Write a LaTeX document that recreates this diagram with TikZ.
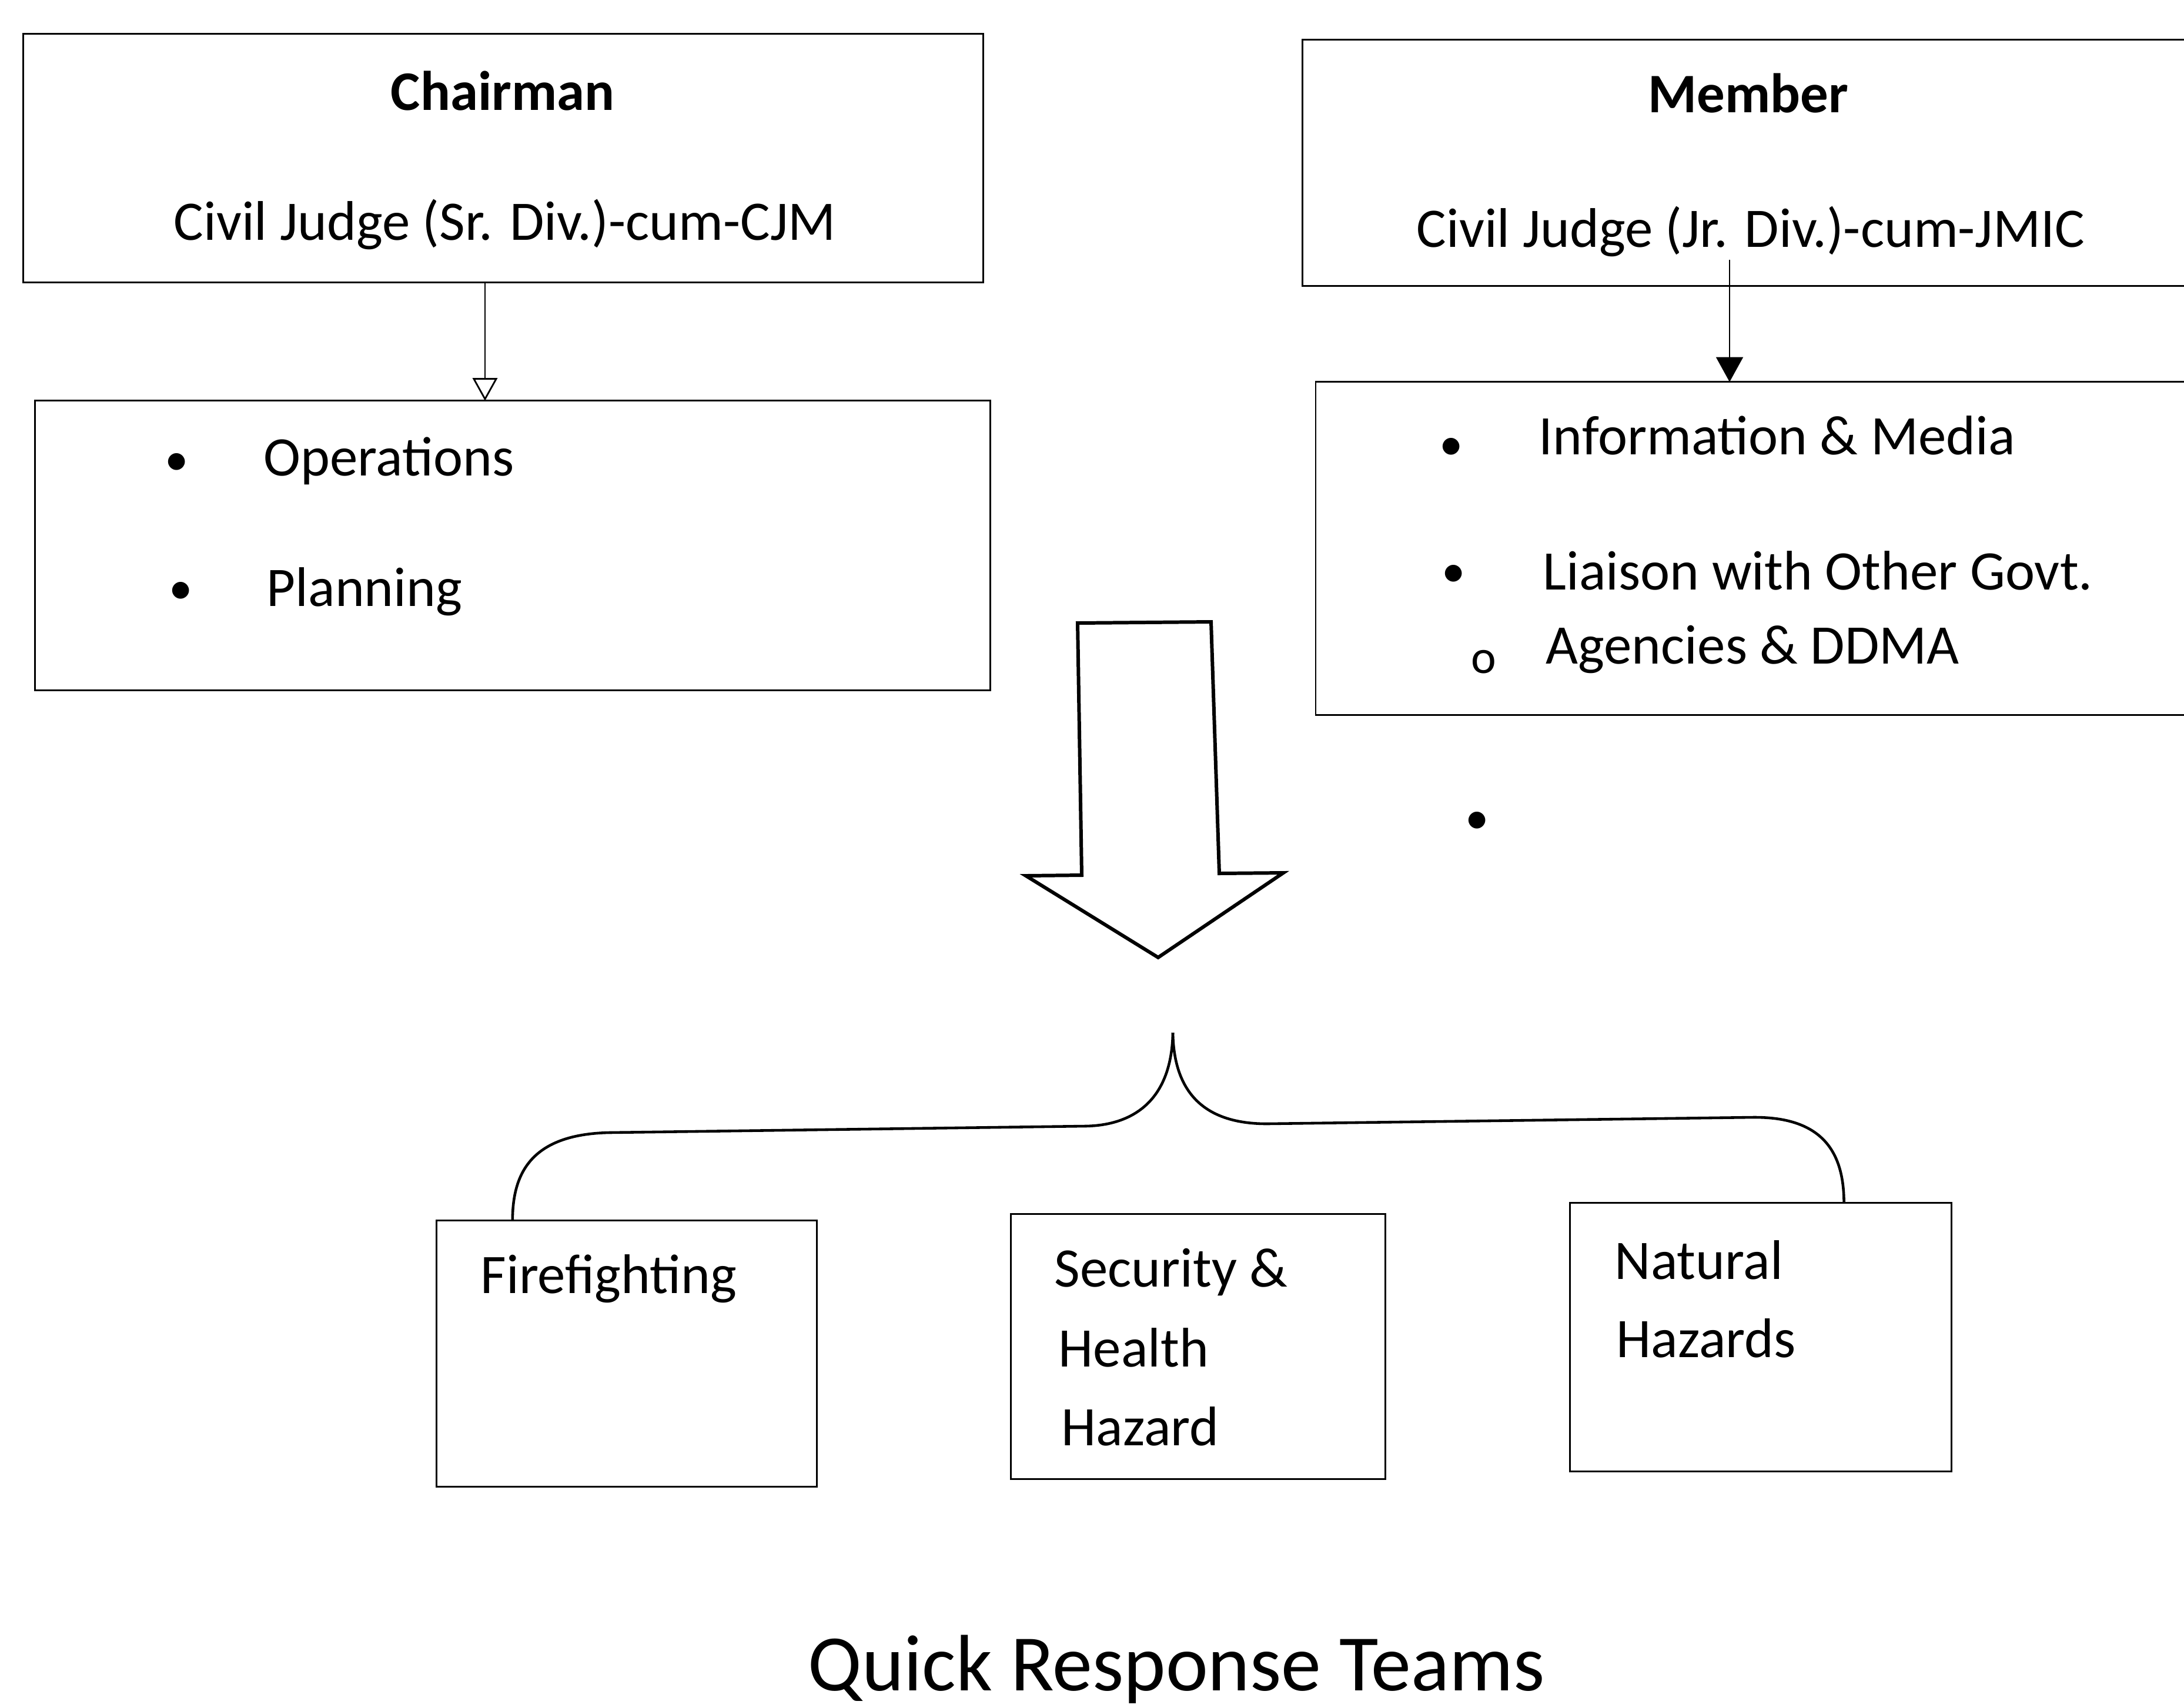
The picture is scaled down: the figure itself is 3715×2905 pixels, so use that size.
\documentclass[tikz,border=0pt]{standalone}
\usepackage{fontspec}
\setmainfont{Carlito}
\usetikzlibrary{arrows.meta,calc}
\begin{document}
\begin{tikzpicture}[x=0.01cm,y=-0.01cm,
  box/.style={draw=black,line width=0.8pt,inner sep=0pt,outer sep=0pt,rectangle},
  txt/.style={inner sep=0pt,anchor=base west,font=\fontsize{27}{32}\selectfont},
  ctxt/.style={inner sep=0pt,anchor=base,font=\fontsize{27}{32}\selectfont},
  btxt/.style={inner sep=0pt,anchor=base,font=\fontsize{27}{32}\selectfont\bfseries},
  bul/.style={inner sep=0pt,anchor=center,font=\fontsize{23}{28}\selectfont},
  conn/.style={draw=black,line width=0.8pt},
  brace/.style={draw=black,line width=1.3pt},
  blockarrow/.style={draw=black,line width=1.7pt,line join=miter}]
\useasboundingbox (0,0) rectangle (3715,2905);
\clip (0,0) rectangle (3715,2905);

% top boxes
\node[box,minimum width=16.32cm,minimum height=4.22cm] (chair) at (856,269) {};
\node[box,minimum width=16.24cm,minimum height=4.92cm] (ops) at (872,928) {};
\node[box,minimum width=15.44cm,minimum height=4.19cm] (member) at (2988,277) {};
\node[box,minimum width=15.21cm,minimum height=5.66cm] (info) at (2999,933) {};

% texts of left side
\node[btxt] (tchair) at (855,187) {Chairman};
\node[ctxt] (tcjm) at (859,408) {Civil Judge (Sr. Div.)-cum-CJM};
\node[bul] (b1) at (301,790) {\textbullet};
\node[txt] (tops) at (448,809) {Operations};
\node[bul] (b2) at (308,1009) {\textbullet};
\node[txt] (tplan) at (453,1031) {Planning};

% texts of right side
\node[btxt] (tmember) at (2974,191) {Member};
\node[ctxt] (tjmic) at (2978,420) {Civil Judge (Jr. Div.)-cum-JMIC};
\node[bul] (b3) at (2469,764) {\textbullet};
\node[txt] (tinfo) at (2617,773) {Information \& Media};
\node[bul] (b4) at (2473,980) {\textbullet};
\node[txt] (tliaison) at (2624,1003) {Liaison with Other Govt.};
\node[bul] (b5) at (2524,1126) {o};
\node[txt] (tagency) at (2629,1129) {Agencies \& DDMA};
\node[bul] (b6) at (2513,1400) {\textbullet};

% arrows from top boxes
\draw[conn,-{Triangle[open,width=12pt,length=11pt]}] (chair.south -| 825,0) -- (ops.north -| 825,0);
\coordinate (mstart) at (2942,442);
\draw[conn,-{Triangle[width=13pt,length=12pt]}] (mstart) -- (info.north -| mstart);

% big block arrow
\draw[blockarrow] (1833,1060) -- (2060,1058) -- (2074,1486) -- (2183,1485)
  -- (1970,1629) -- (1745,1490) -- (1840,1489) -- cycle;

% bottom boxes
\node[box,minimum width=6.47cm,minimum height=4.53cm] (ff) at (1066,2303) {};
\node[box,minimum width=6.37cm,minimum height=4.51cm] (sec) at (2038,2291) {};
\node[box,minimum width=6.49cm,minimum height=4.56cm] (nat) at (2995,2275) {};

\node[txt] (tff) at (817,2200) {Firefighting};
\node[txt] (tsec1) at (1793,2189) {Security \&};
\node[txt] (tsec2) at (1800,2325) {Health};
\node[txt] (tsec3) at (1805,2459) {Hazard};
\node[txt] (tnat1) at (2746,2176) {Natural};
\node[txt] (tnat2) at (2749,2309) {Hazards};

% brace
\coordinate (peak) at (1995,1757);
\coordinate (bl) at ($(ff.north west)!0.2!(ff.north east)$);
\coordinate (br) at ($(nat.north west)!0.718!(nat.north east)$);
\draw[brace] (peak) .. controls (1993,1870) and (1930,1915) .. (1845,1916)
  -- (1036,1927) .. controls (900,1930) and (872,2000) .. (bl);
\draw[brace] (peak) .. controls (1997,1870) and (2060,1912) .. (2155,1912)
  -- (2982,1901) .. controls (3100,1900) and (br |- 0,1960) .. (br);

% caption
\node[inner sep=0pt,anchor=base,font=\fontsize{38.7}{46}\selectfont] (title) at (2001,2876) {Quick Response Teams};
\end{tikzpicture}
\end{document}
